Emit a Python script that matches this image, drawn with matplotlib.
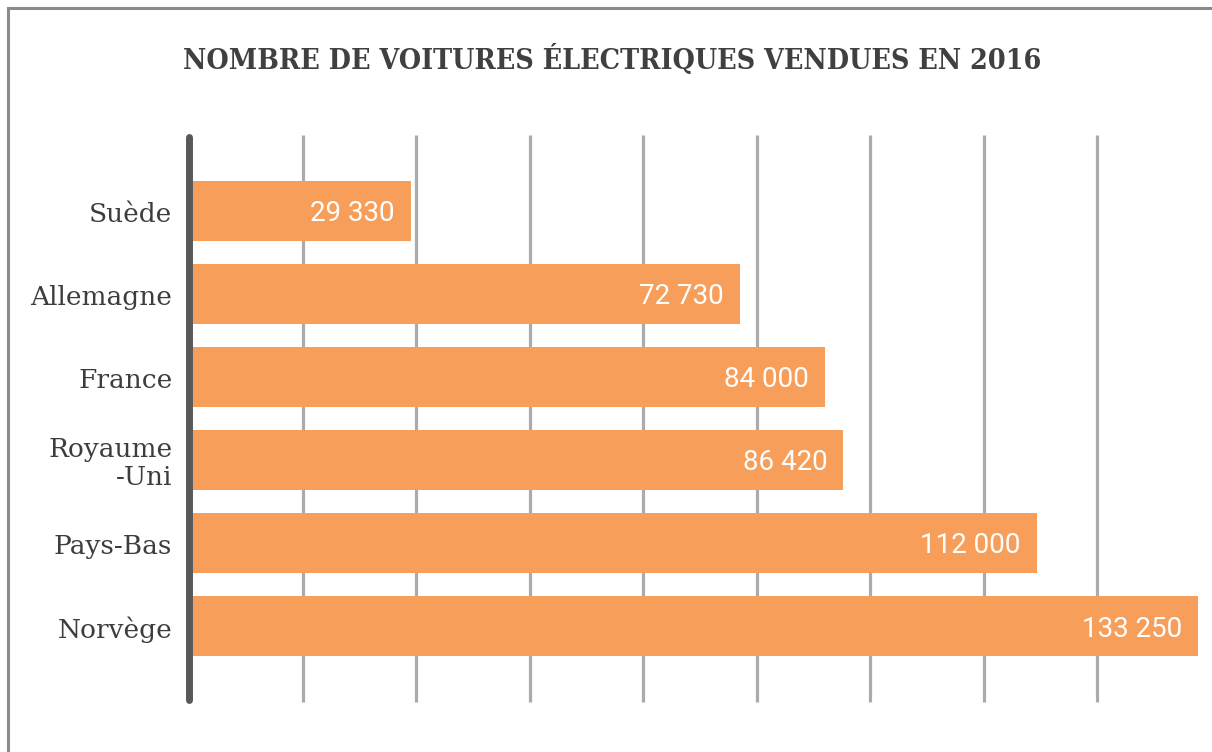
import matplotlib
matplotlib.use("Agg")
import matplotlib.pyplot as plt
from matplotlib.patches import Rectangle

countries = ["Suède", "Allemagne", "France", "Royaume\n-Uni", "Pays-Bas", "Norvège"]
sales = [29330, 72730, 84000, 86420, 112000, 133250]
value_labels = ["29 330", "72 730", "84 000", "86 420", "112 000", "133 250"]
grid_step = 15000
x_max = 135000

W, H = 1212, 752
fig = plt.figure(figsize=(W / 100, H / 100), dpi=100)
fig.patch.set_facecolor("white")

# outer frame
fig.add_artist(Rectangle((8 / W, -0.1), 1.2, 1 - 8 / H + 0.1, transform=fig.transFigure,
                         fill=False, edgecolor="#8a8a8a", linewidth=2.2))

left, right = 189 / W, 1211 / W
top, bottom = 1 - 135 / H, 1 - 702 / H
ax = fig.add_axes([left, bottom, right - left, top - bottom])
ax.set_xlim(0, x_max)
n = len(countries)
ax.set_ylim(n - 1 + 0.91, -0.91)
for s in ax.spines.values():
    s.set_visible(False)
ax.set_xticks([])
ax.set_yticks([])
ax.patch.set_alpha(0)

for v in range(grid_step, x_max, grid_step):
    ax.plot([v, v], [n - 1 + 0.91, -0.91], color="#ababaf", lw=2.3, zorder=1,
            solid_capstyle="butt", clip_on=False)

ypos = list(range(n))
ax.barh(ypos, sales, height=0.72, color="#F79F5A", zorder=2, left=0)

ax.plot([0, 0], [n - 1 + 0.89, -0.89], color="#58585a", lw=5, zorder=3,
        solid_capstyle="round", clip_on=False)

for y, v, lab in zip(ypos, sales, value_labels):
    ax.annotate(lab, (v, y), xytext=(-11.5, -2), textcoords="offset points",
                ha="right", va="center", color="white", fontsize=20,
                family="Roboto", zorder=4)

for y, c in zip(ypos, countries):
    ax.annotate(c, (0, y), xytext=(-12, -2.5), textcoords="offset points",
                ha="right", va="center", color="#3d3d3d", fontsize=19,
                family="DejaVu Serif",
                linespacing=1.12, multialignment="right", annotation_clip=False)

fig.text(612 / W, 1 - 59 / H, "NOMBRE DE VOITURES ÉLECTRIQUES VENDUES EN 2016",
         ha="center", va="center", fontsize=20.5, fontweight="bold",
         family="DejaVu Serif", fontstretch="condensed", color="#404040")

fig.savefig("out.png", dpi=100)
